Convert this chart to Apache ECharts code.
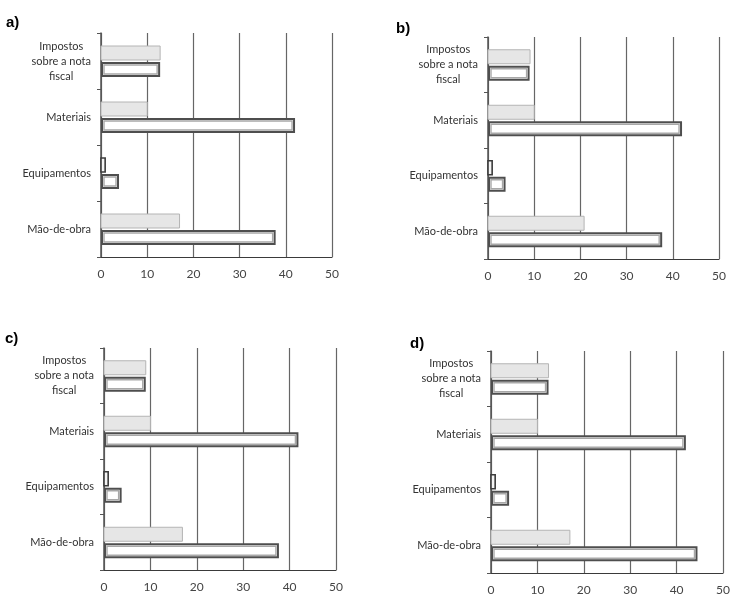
<!DOCTYPE html>
<html>
<head>
<meta charset="utf-8">
<script src="https://cdn.jsdelivr.net/npm/echarts@6/dist/echarts.min.js"></script>
<style>
  html, body { margin: 0; padding: 0; background: #fff; }
  #main { width: 737px; height: 608px; }
</style>
</head>
<body>
<div id="main"></div>
<script>
// categorias (de baixo para cima, como no eixo)
var categorias = ['Mão-de-obra', 'Equipamentos', 'Materiais', 'Impostos\nsobre a nota\nfiscal']
var ticksX = [0, 10, 20, 30, 40, 50]
var paineis = ['a)', 'b)', 'c)', 'd)']

// barra clara (superior) e barra contornada (inferior), por painel
var claroA = [17, 0.9, 10, 12.8]
var escuroA = [37.8, 3.9, 42, 12.8]
var claroB = [20.8, 0.9, 10, 9.1]
var escuroB = [37.7, 3.8, 42, 9]
var claroC = [16.9, 0.9, 10, 9]
var escuroC = [37.7, 3.8, 41.9, 9]
var claroD = [17, 0.9, 10, 12.4]
var escuroD = [44.5, 3.9, 42, 12.4]

var claros = [claroA, claroB, claroC, claroD]
var escuros = [escuroA, escuroB, escuroC, escuroD]

var myChart = echarts.init(document.getElementById('main'))

// posição de cada painel
var grades = [
    { left: 101, top: 33, width: 231, height: 224 },
    { left: 488, top: 37, width: 231, height: 222 },
    { left: 104, top: 348, width: 232, height: 222 },
    { left: 491, top: 351, width: 232, height: 222 }
]
var titulos = [
    { left: 6, top: 15 },
    { left: 396, top: 21 },
    { left: 5, top: 331 },
    { left: 410, top: 336 }
]

function pares(valores) {
    return valores.map(function (v, i) { return [v, i] })
}

function barraClara(params, api) {
    var ini = api.coord([0, api.value(1)])
    var fim = api.coord([api.value(0), api.value(1)])
    var w = fim[0] - ini[0]
    var fina = w < 8
    return {
        type: 'rect',
        shape: { x: ini[0], y: ini[1] - 15, width: w, height: 14 },
        style: {
            fill: fina ? '#f4f4f4' : '#e6e6e6',
            stroke: fina ? '#3c3c3c' : '#b4b4b4',
            lineWidth: fina ? 1.6 : 1
        }
    }
}

function barraEscura(params, api) {
    var ini = api.coord([0, api.value(1)])
    var fim = api.coord([api.value(0), api.value(1)])
    var x = ini[0]
    var y = ini[1] + 1
    var w = fim[0] - ini[0]
    return {
        type: 'group',
        children: [
            {
                type: 'rect',
                shape: { x: x + 1, y: y + 1, width: w - 2, height: 13 },
                style: { fill: '#fff', stroke: '#4e4e4e', lineWidth: 2 }
            },
            {
                type: 'rect',
                shape: { x: x + 3, y: y + 3, width: Math.max(w - 6, 0), height: 9 },
                style: { fill: '#fff', stroke: '#a8a8a8', lineWidth: 1.4 }
            }
        ]
    }
}

var option = {
    backgroundColor: '#fff',
    animation: false,
    title: [],
    grid: [],
    xAxis: [],
    yAxis: [],
    series: []
}

for (var i = 0; i < 4; i++) {
    option.title.push({
        text: paineis[i],
        left: titulos[i].left,
        top: titulos[i].top,
        padding: 0,
        textStyle: { fontFamily: 'Liberation Sans', fontWeight: 'bold', fontSize: 15, color: '#000' }
    })
    option.grid.push(grades[i])
    option.xAxis.push({
        gridIndex: i,
        type: 'value',
        min: ticksX[0],
        max: ticksX[ticksX.length - 1],
        interval: 10,
        axisLine: { show: true, lineStyle: { color: '#3a3a3a', width: 1.2 } },
        axisTick: { show: false },
        splitLine: { show: true, lineStyle: { color: '#666', width: 1.2 } },
        axisLabel: { margin: 11, fontFamily: 'Lato', fontSize: 12, color: '#444' }
    })
    option.yAxis.push({
        gridIndex: i,
        type: 'category',
        data: categorias,
        axisLine: { show: true, lineStyle: { color: '#555', width: 1.5 } },
        axisTick: { show: true, length: 4, lineStyle: { color: '#555' } },
        axisLabel: {
            margin: 10,
            formatter: function (v) {
                return v.split('\n').map(function (l) { return '{c|' + l + '}' }).join('\n')
            },
            rich: {
                c: { align: 'center', fontFamily: 'Lato', fontSize: 11, lineHeight: 15, color: '#333' }
            }
        }
    })
    option.series.push({
        type: 'custom',
        xAxisIndex: i,
        yAxisIndex: i,
        renderItem: barraClara,
        encode: { x: 0, y: 1 },
        data: pares(claros[i])
    })
    option.series.push({
        type: 'custom',
        xAxisIndex: i,
        yAxisIndex: i,
        renderItem: barraEscura,
        encode: { x: 0, y: 1 },
        data: pares(escuros[i])
    })
}

myChart.setOption(option)
</script>
</body>
</html>
